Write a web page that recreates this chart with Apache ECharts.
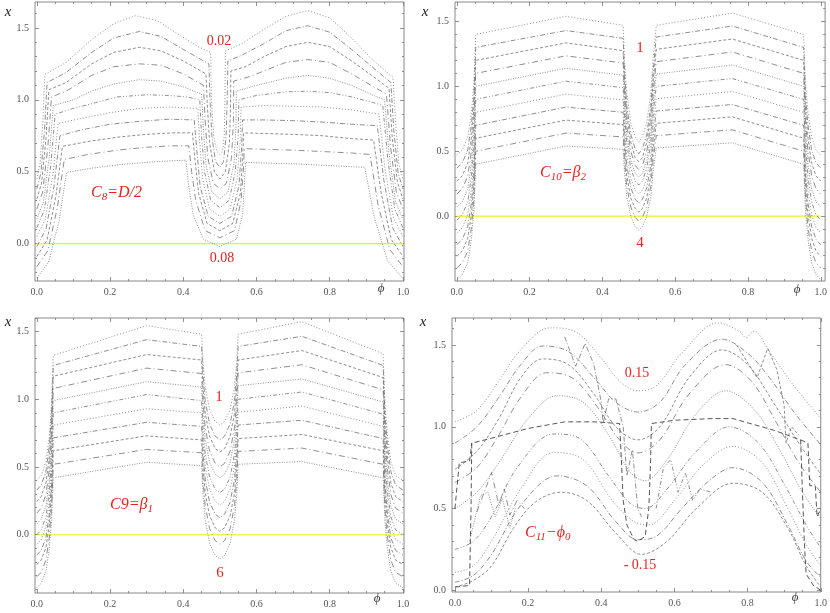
<!DOCTYPE html>
<html lang="en">
<head>
    <meta charset="UTF-8">
    <title>C8 C9 C10 C11</title>
    <script src="https://cdn.jsdelivr.net/npm/echarts@6/dist/echarts.min.js"></script>
    <style>html, body {margin: 0; background: #fff;}</style>
</head>
<body>
<div id="chart" style="width: 830px;height:613px;"></div>
<script>
    // tick positions
    let xMajor = [0, 0.2, 0.4, 0.6, 0.8, 1.0]
    let xMinor = [0.05, 0.1, 0.15, 0.25, 0.3, 0.35, 0.45, 0.5, 0.55, 0.65, 0.7, 0.75, 0.85, 0.9, 0.95]
    let yMajor = [0, 0.5, 1.0, 1.5]
    let yMinor = [-0.4, -0.3, -0.2, -0.1, 0.1, 0.2, 0.3, 0.4, 0.6, 0.7, 0.8, 0.9, 1.1, 1.2, 1.3, 1.4, 1.6]

    let zeroLine = [[0, 0], [1, 0]]

    // C8 = D/2, curves from 0.02 (top) to 0.08 (bottom), [phi, x]
    let c8Curves = [
        [[0,.45],[.009,.56],[.0165,.85],[.022,1.176],[.08,1.26],[.15,1.42],[.21,1.53],[.27,1.585],[.33,1.55],[.39,1.45],[.44,1.37],[.475,1.33],[.477,1.0],[.483,.75],[.492,.64],[.5,.62],[.507,.64],[.512,.75],[.514,1.0],[.515,1.34],[.56,1.39],[.62,1.49],[.68,1.58],[.74,1.62],[.8,1.57],[.86,1.43],[.92,1.27],[.973,1.155],[.98,.84],[.989,.556],[1,.45]],
        [[0,.38],[.011,.49],[.021,.79],[.028,1.12],[.08,1.19],[.15,1.33],[.21,1.43],[.28,1.475],[.34,1.44],[.4,1.35],[.47,1.25],[.473,1.0],[.478,.75],[.488,.57],[.5,.53],[.51,.57],[.517,.75],[.52,1.0],[.522,1.27],[.56,1.31],[.62,1.39],[.68,1.48],[.74,1.515],[.8,1.47],[.86,1.35],[.92,1.22],[.967,1.12],[.975,.79],[.987,.49],[1,.38]],
        [[0,.31],[.013,.42],[.025,.73],[.033,1.07],[.08,1.12],[.15,1.25],[.21,1.33],[.28,1.365],[.34,1.34],[.4,1.27],[.462,1.18],[.466,.95],[.472,.7],[.485,.5],[.5,.45],[.515,.5],[.526,.7],[.529,.95],[.53,1.2],[.57,1.23],[.62,1.3],[.68,1.37],[.74,1.40],[.8,1.37],[.86,1.27],[.92,1.16],[.962,1.08],[.971,.73],[.985,.43],[1,.31]],
        [[0,.24],[.016,.36],[.03,.67],[.04,1.02],[.08,1.06],[.15,1.17],[.21,1.23],[.28,1.25],[.34,1.24],[.4,1.18],[.455,1.1],[.46,.85],[.467,.6],[.482,.42],[.5,.38],[.518,.42],[.532,.6],[.537,.85],[.538,1.13],[.58,1.16],[.62,1.2],[.68,1.26],[.74,1.28],[.8,1.26],[.86,1.18],[.92,1.09],[.955,1.04],[.966,.68],[.982,.36],[1,.24]],
        [[0,.17],[.018,.29],[.034,.6],[.045,.96],[.1,1.0],[.15,1.06],[.21,1.11],[.28,1.14],[.34,1.13],[.4,1.09],[.45,1.04],[.455,.8],[.462,.55],[.478,.36],[.5,.31],[.522,.36],[.538,.55],[.544,.8],[.545,1.06],[.6,1.1],[.68,1.15],[.74,1.17],[.8,1.15],[.86,1.1],[.92,1.03],[.95,1.0],[.962,.63],[.98,.29],[1,.17]],
        [[0,.11],[.02,.23],[.038,.54],[.05,.90],[.1,.94],[.16,.98],[.22,1.02],[.3,1.035],[.36,1.03],[.41,1.02],[.445,1.0],[.45,.75],[.458,.5],[.475,.3],[.5,.25],[.525,.3],[.542,.5],[.55,.75],[.552,1.0],[.6,1.03],[.68,1.055],[.74,1.06],[.8,1.05],[.86,1.02],[.92,.98],[.945,.96],[.959,.58],[.978,.24],[1,.11]],
        [[0,.05],[.023,.17],[.044,.48],[.058,.835],[.12,.87],[.2,.91],[.28,.94],[.36,.95],[.44,.94],[.445,.7],[.453,.45],[.472,.24],[.5,.19],[.528,.24],[.547,.45],[.555,.7],[.558,.95],[.62,.96],[.7,.955],[.78,.95],[.86,.93],[.935,.90],[.951,.52],[.974,.18],[1,.05]],
        [[0,-.02],[.025,.1],[.047,.40],[.063,.75],[.12,.79],[.2,.83],[.28,.85],[.36,.865],[.43,.86],[.437,.65],[.446,.4],[.468,.19],[.5,.14],[.532,.19],[.552,.4],[.559,.65],[.562,.86],[.62,.86],[.7,.855],[.78,.845],[.86,.83],[.93,.82],[.948,.44],[.972,.11],[1,-.02]],
        [[0,-.09],[.028,.025],[.052,.33],[.07,.676],[.14,.71],[.22,.74],[.3,.76],[.37,.77],[.425,.77],[.432,.58],[.442,.35],[.465,.14],[.5,.09],[.535,.14],[.556,.35],[.562,.58],[.565,.77],[.63,.765],[.7,.76],[.78,.75],[.86,.73],[.92,.72],[.94,.36],[.968,.03],[1,-.09]],
        [[0,-.16],[.03,-.05],[.056,.25],[.075,.585],[.14,.62],[.22,.65],[.3,.67],[.37,.68],[.415,.68],[.423,.5],[.434,.3],[.46,.09],[.5,.04],[.54,.09],[.558,.3],[.564,.5],[.567,.66],[.63,.655],[.7,.65],[.78,.64],[.86,.63],[.91,.62],[.932,.27],[.964,-.04],[1,-.16]],
        [[0,-.24],[.032,-.13],[.061,.16],[.081,.495],[.15,.525],[.23,.55],[.3,.565],[.36,.575],[.407,.58],[.415,.4],[.427,.2],[.455,.03],[.5,-.02],[.545,.03],[.562,.2],[.567,.4],[.57,.565],[.63,.56],[.7,.555],[.78,.545],[.86,.535],[.896,.53],[.922,.18],[.958,-.12],[1,-.24]]
    ]

    // C10 = beta2, curves from 1 (top) to 4 (bottom), values on a shared phi grid
    let c10Phi = [0,.015,.03,.04,.047,.052,.3,.457,.461,.467,.478,.49,.5,.51,.522,.533,.539,.548,.757,.953,.958,.965,.975,.987,1]
    let c10Rows = [
        [.47,.51,.61,.80,1.03,1.40,1.54,1.47,1.2,.95,.72,.61,.57,.61,.72,.95,1.2,1.47,1.565,1.40,1.03,.80,.61,.51,.47],
        [.37,.41,.51,.70,.93,1.30,1.43,1.37,1.10,.85,.63,.52,.48,.52,.63,.85,1.10,1.38,1.465,1.30,.93,.70,.51,.41,.37],
        [.27,.31,.41,.60,.83,1.20,1.335,1.275,1.02,.78,.57,.45,.42,.45,.57,.78,1.02,1.285,1.365,1.20,.83,.60,.41,.31,.27],
        [.17,.21,.31,.50,.73,1.10,1.235,1.18,.93,.70,.50,.39,.36,.39,.50,.70,.93,1.19,1.265,1.10,.73,.50,.31,.21,.17],
        [.07,.11,.21,.40,.63,1.00,1.14,1.085,.85,.63,.43,.33,.30,.33,.43,.63,.85,1.095,1.165,1.00,.63,.40,.21,.11,.07],
        [-.03,.01,.11,.30,.53,.90,1.04,.99,.77,.56,.37,.27,.24,.27,.37,.56,.77,1.0,1.06,.90,.53,.30,.11,.01,-.03],
        [-.13,-.09,.01,.20,.43,.80,.94,.895,.68,.47,.29,.20,.17,.20,.29,.47,.68,.905,.96,.80,.43,.20,.01,-.09,-.13],
        [-.22,-.18,-.08,.10,.33,.70,.84,.80,.59,.39,.22,.13,.10,.13,.22,.39,.59,.81,.86,.70,.33,.10,-.08,-.18,-.22],
        [-.31,-.27,-.17,.01,.24,.60,.74,.705,.50,.31,.14,.06,.03,.06,.14,.31,.50,.715,.765,.60,.24,.01,-.17,-.27,-.31],
        [-.40,-.36,-.27,-.09,.14,.50,.64,.61,.42,.23,.07,-.01,-.04,-.01,.07,.23,.42,.62,.665,.50,.14,-.09,-.27,-.36,-.40],
        [-.49,-.45,-.36,-.18,.04,.40,.54,.515,.33,.15,0,-.08,-.11,-.08,0,.15,.33,.525,.565,.40,.04,-.18,-.36,-.45,-.49]
    ]

    // C9 = beta1, curves from 1 (top) to 6 (bottom)
    let c9Phi = [0,.012,.025,.034,.04,.045,.3,.45,.454,.46,.472,.487,.5,.513,.528,.54,.546,.55,.724,.946,.951,.958,.967,.98,1]
    let c9Rows = [
        [.40,.437,.539,.723,.954,1.324,1.544,1.48,1.279,1.091,.924,.837,.81,.837,.924,1.091,1.279,1.48,1.573,1.336,.962,.728,.54,.437,.40],
        [.33,.367,.468,.652,.882,1.25,1.44,1.39,1.183,.99,.817,.728,.70,.728,.817,.99,1.183,1.39,1.465,1.25,.882,.652,.468,.367,.33],
        [.245,.282,.384,.569,.80,1.17,1.33,1.29,1.086,.896,.726,.637,.61,.637,.726,.896,1.086,1.29,1.36,1.16,.794,.565,.382,.282,.245],
        [.16,.197,.298,.482,.712,1.08,1.23,1.19,.983,.79,.617,.528,.50,.528,.617,.79,.983,1.195,1.255,1.07,.706,.479,.297,.196,.16],
        [.08,.116,.217,.399,.626,.99,1.13,1.09,.889,.701,.534,.447,.42,.447,.534,.701,.889,1.10,1.15,.98,.62,.395,.215,.116,.08],
        [0,.036,.135,.315,.54,.90,1.035,.99,.786,.596,.426,.337,.31,.337,.426,.596,.786,1.0,1.054,.89,.534,.312,.134,.036,0],
        [-.07,-.035,.062,.238,.458,.81,.93,.90,.696,.506,.336,.247,.22,.247,.336,.506,.696,.905,.95,.80,.452,.235,.061,-.035,-.07],
        [-.15,-.115,-.02,.153,.369,.715,.83,.80,.598,.409,.24,.152,.125,.152,.24,.409,.598,.81,.845,.71,.366,.151,-.021,-.116,-.15],
        [-.22,-.186,-.094,.074,.284,.62,.73,.70,.498,.309,.14,.052,.025,.052,.14,.309,.498,.71,.74,.62,.284,.074,-.094,-.186,-.22],
        [-.31,-.277,-.186,-.02,.188,.52,.63,.605,.403,.214,.045,-.043,-.07,-.043,.045,.214,.403,.615,.64,.52,.188,-.02,-.186,-.277,-.31],
        [-.39,-.358,-.268,-.107,.096,.42,.535,.51,.303,.11,-.063,-.152,-.18,-.152,-.063,.11,.303,.52,.54,.42,.096,-.107,-.268,-.358,-.39]
    ]

    // C11 = phi0, curves from 0.15 (top) to -0.15 (bottom)
    let c11Curves = [
        [[0,1.03],[.06,1.1],[.12,1.28],[.18,1.47],[.26,1.605],[.33,1.58],[.4,1.42],[.45,1.28],[.5,1.22],[.55,1.25],[.62,1.45],[.72,1.635],[.78,1.58],[.795,1.545],[.817,1.585],[.86,1.46],[.92,1.27],[1,1.05]],
        [[0,.9],[.06,1.0],[.12,1.18],[.18,1.38],[.24,1.494],[.31,1.46],[.38,1.3],[.44,1.15],[.5,1.09],[.56,1.15],[.63,1.38],[.73,1.535],[.8,1.45],[.86,1.3],[.93,1.08],[1,.89]],
        [[0,.74],[.06,.85],[.12,1.05],[.18,1.3],[.24,1.415],[.31,1.38],[.38,1.2],[.44,1.0],[.5,.92],[.56,1.0],[.64,1.3],[.73,1.47],[.8,1.38],[.87,1.15],[.94,.9],[1,.71]],
        [[0,.66],[.06,.75],[.12,.95],[.18,1.18],[.25,1.33],[.32,1.3],[.39,1.12],[.45,.92],[.5,.84],[.56,.92],[.64,1.2],[.74,1.38],[.81,1.28],[.88,1.02],[.94,.78],[1,.6]],
        [[0,.5],[.06,.6],[.12,.78],[.2,1.05],[.28,1.19],[.35,1.15],[.42,.95],[.48,.72],[.52,.67],[.58,.8],[.66,1.08],[.74,1.22],[.82,1.1],[.89,.85],[.95,.6],[1,.44]],
        [[0,.25],[.05,.3],[.1,.45],[.17,.75],[.27,.956],[.34,.93],[.42,.7],[.48,.53],[.52,.5],[.58,.62],[.66,.85],[.75,1.0],[.83,.9],[.9,.65],[.96,.4],[1,.26]],
        [[0,.11],[.05,.15],[.1,.3],[.18,.62],[.27,.843],[.35,.8],[.43,.55],[.49,.42],[.53,.4],[.6,.55],[.68,.77],[.76,.88],[.84,.78],[.91,.5],[.96,.28],[1,.15]],
        [[0,.05],[.05,.09],[.1,.22],[.18,.52],[.28,.70],[.36,.64],[.44,.42],[.5,.31],[.55,.33],[.62,.5],[.7,.68],[.76,.75],[.84,.66],[.91,.4],[.96,.18],[1,.08]],
        [[0,.02],[.05,.06],[.1,.15],[.16,.38],[.22,.54],[.29,.6],[.36,.55],[.44,.35],[.51,.22],[.58,.3],[.66,.5],[.76,.655],[.84,.6],[.91,.38],[.96,.15],[1,.02]]
    ]
    // the dashed step curve and its side branches
    let c11Step = [[0,.02],[.04,.03],[.044,.5],[.046,.9],[.1,.93],[.2,.99],[.3,1.03],[.38,1.03],[.45,1.02],[.455,.8],[.46,.55],[.47,.4],[.49,.31],[.5,.3],[.52,.33],[.53,.5],[.535,.8],[.537,1.02],[.6,1.04],[.7,1.05],[.76,1.05],[.87,.98],[.945,.92],[.95,.6],[.955,.3],[.96,.1],[.98,.03],[1,0]]
    let c11StepLeft = [[0,.5],[.006,.64],[.012,.78],[.04,.79],[.046,.9]]
    let c11StepRight = [[.945,.92],[.965,.9],[.97,.64],[.985,.64],[.99,.45],[1,.5]]
    // jagged pieces
    let c11Jags = [
        [[.3,1.55],[.33,1.37],[.356,1.51],[.38,1.38],[.4,1.15],[.405,1.02],[.42,1.17],[.44,1.17],[.46,1.0],[.47,.7],[.485,.86],[.5,.5],[.51,.45]],
        [[.77,1.5],[.826,1.30],[.855,1.48],[.88,1.35],[.9,1.13],[.905,.9],[.92,1.0],[.94,.95]],
        [[.06,.48],[.08,.6],[.1,.72],[.12,.52],[.135,.62],[.15,.46],[.17,.55],[.19,.5]],
        [[.04,.3],[.07,.58],[.09,.6],[.11,.45],[.13,.56],[.15,.38],[.165,.5]],
        [[.55,.5],[.57,.75],[.59,.8],[.61,.6],[.63,.72],[.65,.55],[.67,.62],[.7,.6]]
    ]

    let serif = 'Liberation Serif'
    let red = '#e3231e'
    let dashes = [[1, 2], [5, 2, 1, 2], [3, 2], [6, 3, 1, 3], [1, 1.5], [4, 2, 1, 2, 1, 2]]

    // panel frames: [left, top, width, height], x range, y range
    let panels = [
        {box: [35, 2, 369, 279], x: [-0.005, 1.003], y: [-0.26, 1.68]},
        {box: [455, 2, 371, 279], x: [-0.005, 1.012], y: [-0.5, 1.65]},
        {box: [35, 318, 369, 275], x: [-0.005, 1.003], y: [-0.43, 1.60]},
        {box: [452, 318, 370, 274], x: [-0.008, 1.0], y: [-0.01, 1.665]}
    ]

    function tick(vals, len) {
        return {show: true, inside: true, length: len, customValues: vals, lineStyle: {color: '#777', width: 0.8}}
    }

    function label(vals) {
        return {show: true, customValues: vals, formatter: v => v.toFixed(1), fontFamily: serif, fontSize: 10, color: '#555', margin: 6}
    }

    function axis(g, range, pos, ticks, len, lab) {
        return {
            gridIndex: g, type: 'value', min: range[0], max: range[1], position: pos,
            axisLine: {show: false, onZero: false}, splitLine: {show: false},
            axisTick: tick(ticks, len), axisLabel: lab ? label(ticks) : {show: false}
        }
    }

    let grids = [], xAxes = [], yAxes = []
    panels.forEach(function (p, g) {
        grids.push({left: p.box[0], top: p.box[1], width: p.box[2], height: p.box[3], show: true, borderColor: '#888', borderWidth: 1})
        xAxes.push(axis(g, p.x, 'bottom', xMajor, 4, true), axis(g, p.x, 'bottom', xMinor, 2),
            axis(g, p.x, 'top', xMajor, 4), axis(g, p.x, 'top', xMinor, 2))
        yAxes.push(axis(g, p.y, 'left', yMajor, 4, true), axis(g, p.y, 'left', yMinor, 2),
            axis(g, p.y, 'right', yMajor, 4), axis(g, p.y, 'right', yMinor, 2))
    })

    let series = []

    function addLine(g, data, i, extra) {
        series.push(Object.assign({
            type: 'line', xAxisIndex: g * 4, yAxisIndex: g * 4, data: data,
            symbol: 'none', silent: true, clip: true,
            lineStyle: {color: '#6a6a6a', width: 0.75, type: dashes[i % dashes.length]}
        }, extra || {}))
    }

    function addZero(g) {
        addLine(g, zeroLine, 0, {lineStyle: {color: '#f2ee1c', width: 1.2}})
    }

    addZero(0)
    c8Curves.forEach((c, i) => addLine(0, c, i))
    addZero(1)
    c10Rows.forEach((r, i) => addLine(1, r.map((v, j) => [c10Phi[j], v]), i))
    addZero(2)
    c9Rows.forEach((r, i) => addLine(2, r.map((v, j) => [c9Phi[j], v]), i))
    c11Curves.forEach((c, i) => addLine(3, c, i, {smooth: 0.35}))
    let stepStyle = {lineStyle: {color: '#444', width: 0.9, type: [5, 3]}}
    addLine(3, c11Step, 0, stepStyle)
    addLine(3, c11StepLeft, 0, stepStyle)
    addLine(3, c11StepRight, 0, stepStyle)
    c11Jags.forEach((c, i) => addLine(3, c, i + 1))

    function txt(x, y, text, size, color, italic, align) {
        return {
            type: 'text', x: x, y: y, silent: true,
            style: {
                text: text, fill: color, font: (italic ? 'italic ' : '') + size + 'px "' + serif + '", "DejaVu Serif"',
                align: align || 'center', textAlign: align || 'center', verticalAlign: 'middle', textVerticalAlign: 'middle'
            }
        }
    }

    function sub(x, y, parts) {
        // parts: [text, isSubscript]
        return {
            type: 'text', x: x, y: y, silent: true,
            style: {
                text: parts.map(p => (p[1] ? '{s|' : '{m|') + p[0] + '}').join(''),
                align: 'left', textAlign: 'left', verticalAlign: 'middle', textVerticalAlign: 'middle',
                rich: {
                    m: {fill: red, fontFamily: serif, fontStyle: 'italic', fontSize: 16, lineHeight: 20},
                    s: {fill: red, fontFamily: serif, fontStyle: 'italic', fontSize: 11, lineHeight: 10, verticalAlign: 'bottom'}
                }
            }
        }
    }

    let graphics = [
        txt(8, 12, 'x', 15, '#222', true), txt(425, 12, 'x', 15, '#222', true),
        txt(8, 322, 'x', 15, '#222', true), txt(423, 322, 'x', 15, '#222', true),
        txt(381, 289, 'ϕ', 13, '#444', true), txt(797, 290, 'ϕ', 13, '#444', true),
        txt(377, 599, 'ϕ', 13, '#444', true), txt(795, 598, 'ϕ', 13, '#444', true),
        txt(219, 41, '0.02', 14, red), txt(222, 258, '0.08', 14, red),
        txt(640, 48, '1', 15, red), txt(640, 243, '4', 15, red),
        txt(219, 397, '1', 15, red), txt(220, 573, '6', 15, red),
        txt(637, 373, '0.15', 14, red), txt(640, 565, '- 0.15', 14, red),
        sub(91, 193, [['C'], ['8', 1], ['=D/2']]),
        sub(540, 173, [['C'], ['10', 1], ['=β'], ['2', 1]]),
        sub(110, 505, [['C9=β'], ['1', 1]]),
        sub(525, 533, [['C'], ['11', 1], ['−ϕ'], ['0', 1]])
    ]

    let chart = echarts.init(document.getElementById('chart'))
    chart.setOption({
        backgroundColor: '#fff',
        animation: false,
        grid: grids,
        xAxis: xAxes,
        yAxis: yAxes,
        series: series,
        graphic: graphics
    })
</script>
</body>
</html>
